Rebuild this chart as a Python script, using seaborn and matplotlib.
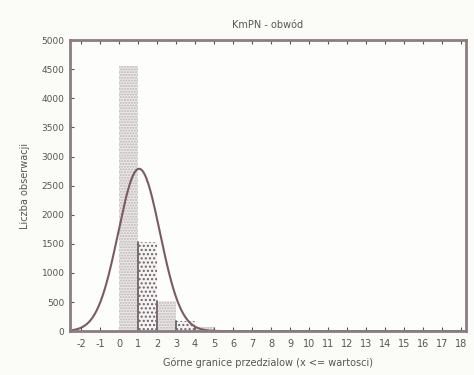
import numpy as np
import pandas as pd
import matplotlib
matplotlib.use("Agg")
import matplotlib.pyplot as plt
import seaborn as sns

# Data
bin_left = [0, 1, 2, 3, 4, 5]
counts = [4550, 1530, 520, 170, 65, 20]
x_ticks = list(range(-2, 19))
y_ticks = [0, 500, 1000, 1500, 2000, 2500, 3000, 3500, 4000, 4500, 5000]
# fitted normal curve parameters
fit_mean = 1.05
fit_sd = 1.1
fit_peak = 2790

sns.set_theme(style="white")
plt.rcParams['font.family'] = ['DejaVu Sans']
plt.rcParams['axes.unicode_minus'] = False

frame_col = "#8c7c84"
text_col = "#555555"

fig = plt.figure(figsize=(4.74, 3.75), dpi=100, facecolor="#fbfbf8")
ax = fig.add_axes([0.148, 0.117, 0.835, 0.776])
ax.set_facecolor("#fdfdfb")

df = pd.DataFrame({"x": bin_left, "n": counts})
edges = list(range(0, 7))
sns.histplot(data=df, x="x", weights="n", bins=edges, ax=ax,
             color="#ebe8e8", edgecolor="#d0cccc", linewidth=0.6, alpha=1)

for i, p in enumerate(ax.patches):
    if i % 2 == 0:
        p.set_hatch("......")
        p.set_edgecolor("#bdb6b6")
    else:
        p.set_hatch("....")
        p.set_edgecolor("#6e6264")
        p.set_facecolor("#f4f2f2")
    p.set_linewidth(0.0)
    # dark left edge like the reference
    if i >= 1:
        ax.plot([p.get_x(), p.get_x()], [0, p.get_height()], color="#7a6a72", lw=1.4)

cx = np.linspace(-2.6, 18.3, 400)
cy = fit_peak * np.exp(-0.5 * ((cx - fit_mean) / fit_sd) ** 2)
sns.lineplot(x=cx, y=cy, ax=ax, color="#7a5a66", lw=1.5)

ax.set_xlim(-2.58, 18.26)
ax.set_ylim(0, 5000)
ax.set_xticks(x_ticks)
ax.set_yticks(y_ticks)
ax.tick_params(axis="both", labelsize=6.5, colors=text_col, length=3,
               direction="in", width=0.8, pad=4)
ax.tick_params(axis="x", labelsize=7, pad=6)
ax.tick_params(top=True, right=False, bottom=True, left=True)
for lbl in ax.get_xticklabels() + ax.get_yticklabels():
    lbl.set_color(text_col)
for s in ax.spines.values():
    s.set_color(frame_col)
    s.set_linewidth(2.0)
    s.set_visible(True)

ax.set_title("KmPN - obwód", fontsize=7, color=text_col, pad=9)
ax.set_xlabel("Górne granice przedzialow (x <= wartosci)", fontsize=7, color=text_col, labelpad=6)
ax.set_ylabel("Liczba obserwacji", fontsize=7, color=text_col, labelpad=8)

fig.savefig("out.png", dpi=100, facecolor=fig.get_facecolor())
